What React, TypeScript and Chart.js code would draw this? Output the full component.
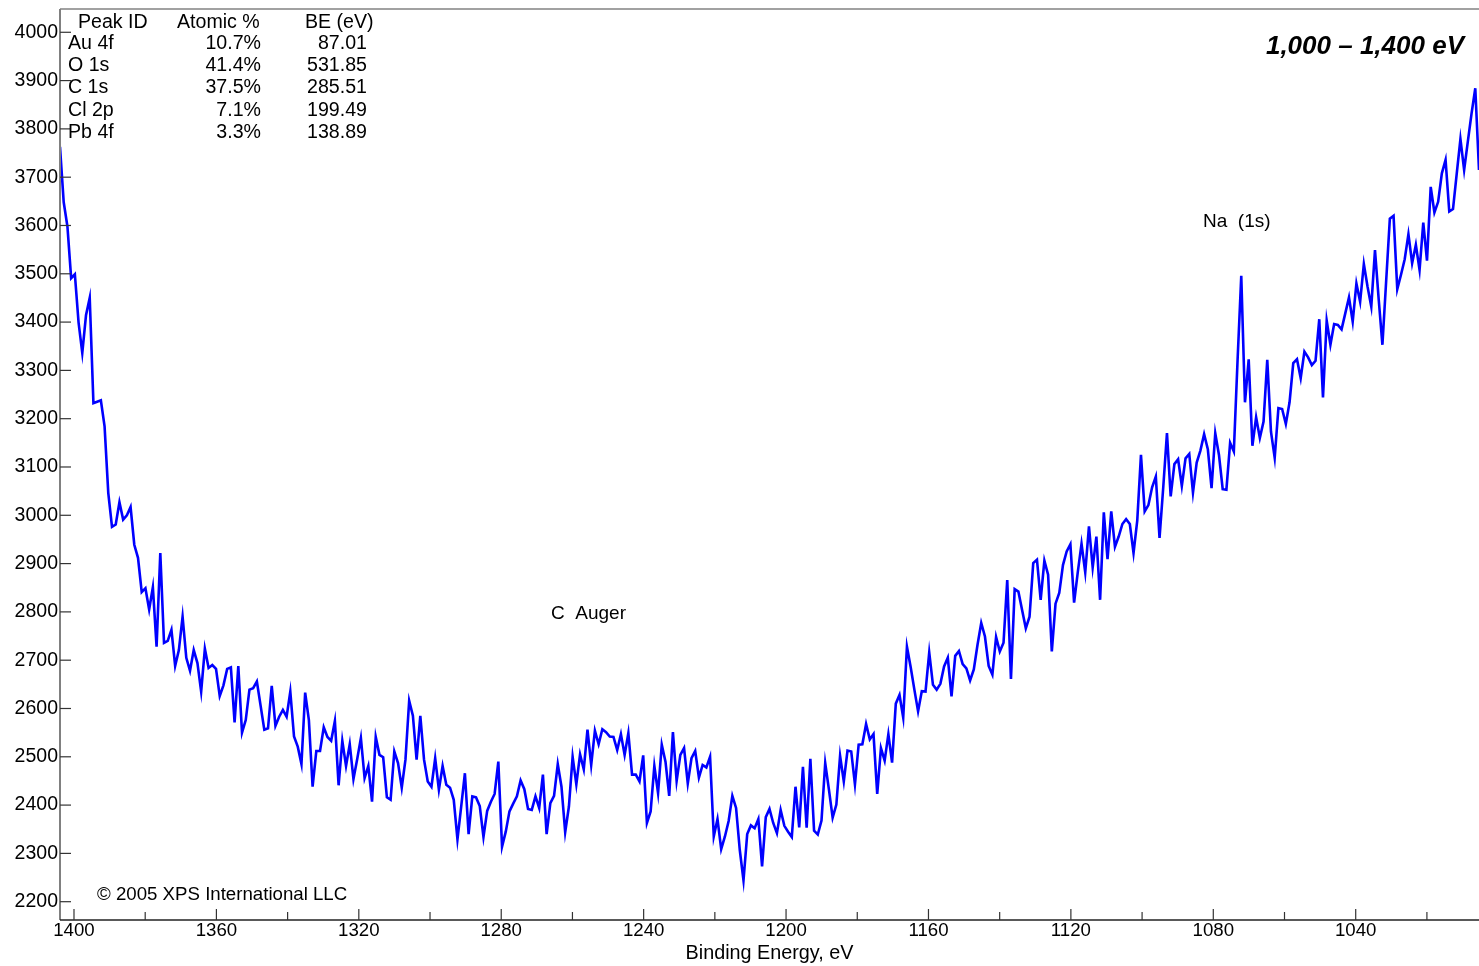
import React, { useEffect, useRef } from "react";
import { Chart, registerables } from "chart.js";

Chart.register(...registerables);

const FONT = "Arial, 'Liberation Sans', Helvetica, sans-serif";
const TICK_X_SIZE = 18.67;
const TICK_Y_SIZE = 19.5;
const TITLE_SIZE = 19.8;
const TABLE_SIZE = 19.6;
const NOTE_SIZE = 19;
const COPY_SIZE = 18.67;

// Energy grid of the spectrum (binding energy, eV), high -> low
const ENERGY_START = 1403.93;
const ENERGY_STEP = 1.04335;

// Counts, from 1403.9 eV down to 1005.4 eV
const COUNTS: number[] = [
  3763, 3648, 3598, 3491, 3499, 3399, 3336, 3414, 3450, 3232,
  3235, 3238, 3184, 3046, 2976, 2981, 3027, 2991, 3000, 3017,
  2939, 2912, 2841, 2849, 2805, 2851, 2728, 2922, 2736, 2740,
  2763, 2688, 2721, 2790, 2705, 2678, 2721, 2694, 2635, 2724,
  2684, 2690, 2682, 2626, 2648, 2682, 2685, 2571, 2688, 2550,
  2576, 2639, 2642, 2656, 2606, 2556, 2559, 2647, 2564, 2583,
  2597, 2583, 2635, 2542, 2521, 2485, 2633,
  2576, 2438, 2512, 2512, 2561, 2541, 2533, 2574, 2441, 2533,
  2481, 2526, 2454, 2495, 2539, 2456, 2481, 2407, 2541, 2504,
  2499, 2416, 2411, 2511, 2487, 2436, 2494, 2616, 2585, 2494,
  2585, 2494, 2449, 2438, 2497, 2432, 2481, 2442, 2436, 2411,
  2329, 2397, 2466, 2340, 2418, 2416, 2398, 2334, 2388, 2407,
  2423, 2490, 2314, 2345, 2387, 2403, 2418, 2451, 2433, 2392,
  2390, 2418, 2394,
  2463, 2340, 2404, 2419, 2485, 2438, 2344, 2397, 2500, 2443,
  2505, 2474, 2556, 2483, 2554, 2526, 2557, 2551, 2542, 2541,
  2514, 2547, 2504, 2549, 2463, 2463, 2449, 2503, 2363, 2387,
  2481, 2425, 2525, 2490, 2419, 2551, 2450, 2504, 2518, 2445,
  2497, 2512, 2457, 2483, 2478, 2500, 2335, 2371, 2309, 2335,
  2367, 2419, 2394, 2307, 2244, 2340, 2358, 2352, 2371, 2273,
  2375, 2392, 2363, 2342, 2390, 2357, 2345, 2334, 2438, 2354,
  2479, 2353, 2496, 2347, 2339, 2368, 2487, 2432, 2374, 2401,
  2502, 2449, 2513, 2511, 2443, 2525, 2526, 2568, 2536, 2547,
  2423, 2518, 2492, 2547, 2488, 2610, 2628, 2581, 2728, 2686,
  2639, 2594, 2636, 2635, 2716, 2649, 2639, 2651, 2687, 2705,
  2625, 2709, 2719, 2692, 2683, 2658, 2681, 2732, 2777, 2749,
  2688, 2670, 2748, 2718,
  2736, 2866, 2661, 2847, 2842, 2804, 2766, 2790, 2901, 2908,
  2825, 2906, 2877, 2718, 2817, 2839, 2897, 2925, 2940, 2819,
  2883, 2941, 2882, 2977, 2892, 2956, 2825, 3006, 2909, 3008,
  2935, 2956, 2982, 2992, 2982, 2922, 2989, 3125, 3008, 3021,
  3058, 3080, 2953, 3058, 3170, 3039, 3106, 3116, 3061, 3118,
  3127, 3047, 3109, 3134, 3168, 3137, 3056, 3170, 3125, 3054,
  3053, 3150, 3132,
  3320, 3496, 3234, 3323, 3144, 3203, 3160, 3194, 3322, 3173,
  3119, 3222, 3220, 3189, 3234, 3315, 3323, 3284, 3339, 3327,
  3311, 3320, 3406, 3244, 3403, 3353, 3396, 3394, 3385, 3418,
  3451, 3401, 3480, 3442, 3520, 3473, 3432, 3549, 3447, 3353,
  3484, 3614, 3620, 3468, 3498, 3530, 3582, 3522, 3560, 3508,
  3606, 3527, 3680, 3627, 3649, 3708, 3736, 3629, 3634, 3707,
  3779, 3715, 3774, 3832, 3884, 3715,
];

const X_MIN = 1005.37;
const X_MAX = 1403.93;
const Y_MIN = 2162.1;
const Y_MAX = 4048.2;

const Y_TICKS = [2200, 2300, 2400, 2500, 2600, 2700, 2800, 2900, 3000, 3100, 3200, 3300, 3400, 3500, 3600, 3700, 3800, 3900, 4000];
const X_MAJOR_TICKS = [1400, 1360, 1320, 1280, 1240, 1200, 1160, 1120, 1080, 1040];
const X_MINOR_TICKS = [1380, 1340, 1300, 1260, 1220, 1180, 1140, 1100, 1060, 1020];

const X_TITLE = "Binding Energy, eV";
const CHART_TITLE = "1,000 \u2013 1,400 eV";
const COPYRIGHT = "\u00A9 2005 XPS International LLC";

const TABLE_HEADERS = ["Peak ID", "Atomic %", "BE (eV)"];
const PEAK_IDS = ["Au 4f", "O 1s", "C 1s", "Cl 2p", "Pb 4f"];
const ATOMIC_PCT = ["10.7%", "41.4%", "37.5%", "7.1%", "3.3%"];
const BE_EV = ["87.01", "531.85", "285.51", "199.49", "138.89"];

const ANNOTATIONS = [
  { text: "Na  (1s)", x: 1203, y: 227 },
  { text: "C  Auger", x: 551, y: 619 },
];

const decorPlugin = {
  id: "decor",
  afterDraw(chart: any) {
    const { ctx, chartArea: a, scales } = chart;
    const xs = scales.x;
    const ys = scales.y;
    const line = (x1: number, y1: number, x2: number, y2: number) => {
      ctx.beginPath();
      ctx.moveTo(x1, y1);
      ctx.lineTo(x2, y2);
      ctx.stroke();
    };
    ctx.save();
    // frame
    ctx.strokeStyle = "#444";
    ctx.lineWidth = 1.2;
    line(a.left, a.top, a.right, a.top);
    ctx.strokeStyle = "#808080";
    ctx.lineWidth = 2;
    line(a.left, a.top, a.left, a.bottom);
    ctx.strokeStyle = "#222";
    ctx.lineWidth = 1.5;
    line(a.left, a.bottom, a.right, a.bottom);
    // ticks
    ctx.strokeStyle = "#333";
    ctx.lineWidth = 1.2;
    Y_TICKS.forEach((v) => {
      const py = ys.getPixelForValue(v);
      line(a.left, py, a.left + 11, py);
    });
    X_MAJOR_TICKS.forEach((v) => {
      const px = xs.getPixelForValue(v);
      line(px, a.bottom, px, a.bottom - 11);
    });
    X_MINOR_TICKS.forEach((v) => {
      const px = xs.getPixelForValue(v);
      line(px, a.bottom, px, a.bottom - 8);
    });

    // table
    ctx.fillStyle = "#000";
    ctx.font = `${TABLE_SIZE}px ${FONT}`;
    ctx.textBaseline = "alphabetic";
    ctx.textAlign = "left";
    ctx.fillText(TABLE_HEADERS[0], 78, 27.5);
    ctx.fillText(TABLE_HEADERS[1], 177, 27.5);
    ctx.fillText(TABLE_HEADERS[2], 305, 27.5);
    PEAK_IDS.forEach((p, i) => {
      const by = 49 + i * 22.2;
      ctx.textAlign = "left";
      ctx.fillText(p, 68, by);
      ctx.textAlign = "right";
      ctx.fillText(ATOMIC_PCT[i], 261, by);
      ctx.fillText(BE_EV[i], 367, by);
    });

    // annotations
    ctx.font = `${NOTE_SIZE}px ${FONT}`;
    ctx.textAlign = "left";
    ANNOTATIONS.forEach((t) => ctx.fillText(t.text, t.x, t.y));
    ctx.font = `${COPY_SIZE}px ${FONT}`;
    ctx.fillText(COPYRIGHT, 97, 900);

    // title
    ctx.font = `italic bold 26px ${FONT}`;
    ctx.textAlign = "right";
    ctx.fillText(CHART_TITLE, 1464, 53.5);
    ctx.restore();
  },
};

export default function App() {
  const ref = useRef<HTMLCanvasElement>(null);
  useEffect(() => {
    const canvas = ref.current;
    if (!canvas) return;
    const points = COUNTS.map((c, i) => ({ x: ENERGY_START - i * ENERGY_STEP, y: c }));
    const chart = new Chart(canvas, {
      type: "line",
      data: {
        datasets: [
          {
            data: points,
            borderColor: "#0000ff",
            borderWidth: 2.6,
            pointRadius: 0,
            tension: 0,
            fill: false,
          },
        ],
      },
      options: {
        animation: false,
        responsive: false,
        maintainAspectRatio: false,
        layout: { padding: { top: 9, right: 0, bottom: 0, left: 0 } },
        plugins: {
          legend: { display: false },
          tooltip: { enabled: false },
          title: { display: false },
        },
        scales: {
          x: {
            type: "linear",
            reverse: true,
            min: X_MIN,
            max: X_MAX,
            afterBuildTicks: (s: any) => {
              s.ticks = X_MAJOR_TICKS.map((v) => ({ value: v }));
            },
            afterFit: (s: any) => {
              s.height = 46;
              s.paddingLeft = 0;
              s.paddingRight = 0;
            },
            grid: { display: false, drawTicks: false },
            border: { display: false },
            ticks: {
              font: { family: FONT, size: TICK_X_SIZE },
              color: "#000",
              padding: 0,
              maxRotation: 0,
              autoSkip: false,
              callback: (v: any) => String(v),
            },
            title: {
              display: true,
              text: X_TITLE,
              color: "#000",
              font: { family: FONT, size: TITLE_SIZE },
              padding: { top: 0, bottom: 1 },
            },
          },
          y: {
            type: "linear",
            min: Y_MIN,
            max: Y_MAX,
            afterBuildTicks: (s: any) => {
              s.ticks = Y_TICKS.map((v) => ({ value: v }));
            },
            afterFit: (s: any) => {
              s.width = 60;
              s.paddingTop = 0;
              s.paddingBottom = 0;
            },
            grid: { display: false, drawTicks: false },
            border: { display: false },
            ticks: {
              font: { family: FONT, size: TICK_Y_SIZE },
              color: "#000",
              padding: 2,
              autoSkip: false,
              callback: (v: any) => String(v),
            },
          },
        },
      },
      plugins: [decorPlugin],
    });
    return () => chart.destroy();
  }, []);
  return (
    <div style={{ position: "absolute", left: 0, top: 0, width: 1479, height: 966, background: "#fff" }}>
      <canvas ref={ref} width={1479} height={966} style={{ display: "block" }} />
    </div>
  );
}
